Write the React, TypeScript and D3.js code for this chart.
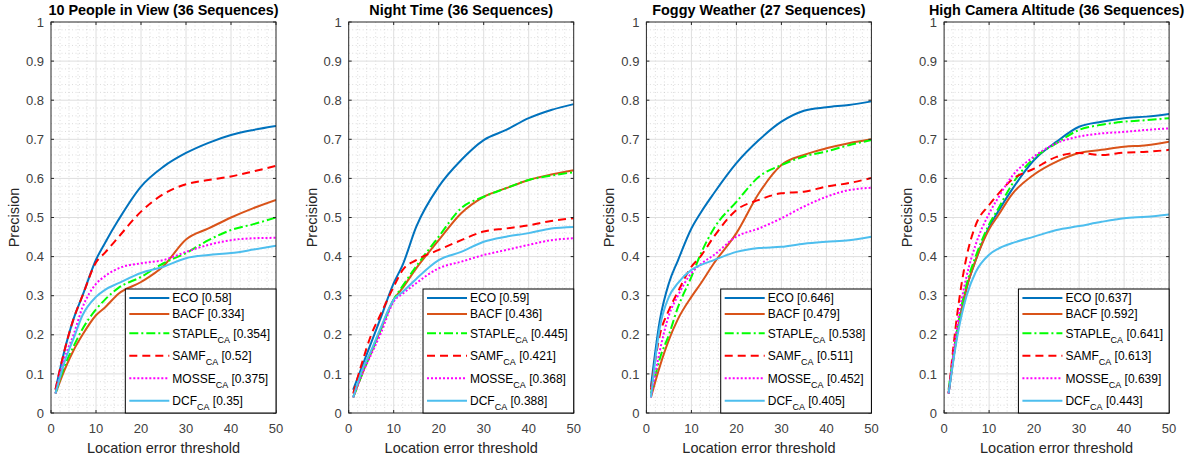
import React, { useEffect, useRef } from 'react';
import * as d3 from 'd3';

const thresholds = [1, 3, 5, 7, 10, 12, 15, 20, 25, 30, 35, 40, 45, 50];

const trackerNames = ['ECO', 'BACF', 'STAPLE', 'SAMF', 'MOSSE', 'DCF'];
const trackerSubs = ['', '', 'CA', 'CA', 'CA', 'CA'];

const titles = [
  '10 People in View (36 Sequences)',
  'Night Time (36 Sequences)',
  'Foggy Weather (27 Sequences)',
  'High Camera Altitude (36 Sequences)',
];

// rows follow trackerNames order
const peopleInView = [
  [0.06, 0.16, 0.24, 0.3, 0.392, 0.435, 0.494, 0.579, 0.63, 0.665, 0.691, 0.711, 0.724, 0.734],
  [0.05, 0.11, 0.16, 0.2, 0.25, 0.27, 0.305, 0.335, 0.376, 0.444, 0.472, 0.5, 0.524, 0.545],
  [0.05, 0.12, 0.17, 0.215, 0.265, 0.29, 0.32, 0.348, 0.383, 0.409, 0.442, 0.468, 0.483, 0.5],
  [0.06, 0.16, 0.24, 0.3, 0.385, 0.41, 0.45, 0.515, 0.56, 0.585, 0.596, 0.605, 0.618, 0.632],
  [0.05, 0.14, 0.2, 0.27, 0.33, 0.35, 0.37, 0.383, 0.391, 0.412, 0.43, 0.442, 0.447, 0.448],
  [0.05, 0.13, 0.19, 0.25, 0.297, 0.315, 0.332, 0.358, 0.374, 0.396, 0.404, 0.409, 0.418, 0.428],
];
const peopleScores = ['0.58', '0.334', '0.354', '0.52', '0.375', '0.35'];

const nightTime = [
  [0.06, 0.12, 0.18, 0.24, 0.332, 0.379, 0.476, 0.579, 0.647, 0.698, 0.724, 0.754, 0.775, 0.79],
  [0.04, 0.1, 0.155, 0.21, 0.29, 0.32, 0.37, 0.442, 0.511, 0.553, 0.575, 0.596, 0.61, 0.621],
  [0.04, 0.1, 0.155, 0.21, 0.29, 0.325, 0.375, 0.451, 0.524, 0.553, 0.575, 0.596, 0.607, 0.616],
  [0.05, 0.13, 0.2, 0.25, 0.323, 0.366, 0.391, 0.417, 0.442, 0.464, 0.472, 0.48, 0.491, 0.498],
  [0.04, 0.1, 0.15, 0.2, 0.285, 0.305, 0.332, 0.37, 0.387, 0.404, 0.417, 0.43, 0.442, 0.447],
  [0.04, 0.11, 0.16, 0.215, 0.29, 0.31, 0.343, 0.391, 0.412, 0.438, 0.451, 0.46, 0.472, 0.476],
];
const nightScores = ['0.59', '0.436', '0.445', '0.421', '0.368', '0.388'];

const foggyWeather = [
  [0.067, 0.238, 0.332, 0.39, 0.472, 0.511, 0.562, 0.639, 0.698, 0.745, 0.773, 0.782, 0.788, 0.797],
  [0.04, 0.12, 0.187, 0.24, 0.297, 0.33, 0.383, 0.46, 0.562, 0.634, 0.66, 0.677, 0.69, 0.7],
  [0.05, 0.14, 0.2, 0.27, 0.348, 0.405, 0.472, 0.54, 0.604, 0.634, 0.656, 0.669, 0.685, 0.698],
  [0.06, 0.2, 0.263, 0.31, 0.374, 0.4, 0.451, 0.519, 0.545, 0.562, 0.566, 0.579, 0.588, 0.601],
  [0.04, 0.16, 0.25, 0.3, 0.358, 0.38, 0.404, 0.451, 0.472, 0.498, 0.528, 0.553, 0.57, 0.576],
  [0.04, 0.22, 0.297, 0.332, 0.366, 0.378, 0.391, 0.412, 0.422, 0.425, 0.433, 0.438, 0.442, 0.451],
];
const foggyScores = ['0.646', '0.479', '0.538', '0.511', '0.452', '0.405'];

const highAltitude = [
  [0.05, 0.21, 0.32, 0.39, 0.476, 0.515, 0.57, 0.647, 0.694, 0.732, 0.745, 0.754, 0.758, 0.765],
  [0.05, 0.21, 0.32, 0.39, 0.47, 0.505, 0.558, 0.61, 0.643, 0.665, 0.673, 0.681, 0.685, 0.694],
  [0.06, 0.22, 0.33, 0.4, 0.482, 0.522, 0.583, 0.652, 0.69, 0.724, 0.737, 0.745, 0.749, 0.754],
  [0.05, 0.26, 0.4, 0.48, 0.532, 0.56, 0.596, 0.625, 0.655, 0.665, 0.66, 0.666, 0.668, 0.673],
  [0.05, 0.23, 0.35, 0.43, 0.51, 0.55, 0.604, 0.656, 0.69, 0.707, 0.715, 0.719, 0.724, 0.728],
  [0.05, 0.2, 0.3, 0.36, 0.405, 0.42, 0.434, 0.451, 0.468, 0.478, 0.489, 0.498, 0.502, 0.508],
];
const highScores = ['0.637', '0.592', '0.641', '0.613', '0.639', '0.443'];

const xTicks = [0, 10, 20, 30, 40, 50];
const yTicks = [0, 0.1, 0.2, 0.3, 0.4, 0.5, 0.6, 0.7, 0.8, 0.9, 1];

const colors = ['#0072BD', '#D95319', '#00FF00', '#FF0000', '#FF00FF', '#4DBEEE'];
const dashes = [null, null, '9,3,2,3', '8,5', '2,2', null];

const panels = [
  { title: titles[0], values: peopleInView, scores: peopleScores },
  { title: titles[1], values: nightTime, scores: nightScores },
  { title: titles[2], values: foggyWeather, scores: foggyScores },
  { title: titles[3], values: highAltitude, scores: highScores },
];

const FONT = '"Liberation Sans", Arial, Helvetica, sans-serif';

const App = () => {
  const ref = useRef(null);

  useEffect(() => {
    const svg = d3.select(ref.current);
    svg.selectAll('*').remove();

    const top = 22;
    const bottom = 413;
    const plotW = 225;

    panels.forEach((panel, i) => {
      const left = 51 + i * 297.7;
      const right = left + plotW;
      const x = d3.scaleLinear().domain([0, 50]).range([left, right]);
      const y = d3.scaleLinear().domain([0, 1]).range([bottom, top]);
      const g = svg.append('g');

      g.append('rect')
        .attr('x', left).attr('y', top)
        .attr('width', plotW).attr('height', bottom - top)
        .attr('fill', '#fff');

      // minor grid
      const xMinor = d3.range(2, 50, 2).filter(v => v % 10 !== 0);
      const yMinor = d3.range(1, 50).map(v => v * 0.02).filter((v, k) => (k + 1) % 5 !== 0);
      g.append('g').selectAll('line').data(xMinor).enter().append('line')
        .attr('x1', d => x(d)).attr('x2', d => x(d))
        .attr('y1', top).attr('y2', bottom)
        .attr('stroke', '#c4c4c4').attr('stroke-width', 0.6)
        .attr('stroke-dasharray', '1,2.5');
      g.append('g').selectAll('line').data(yMinor).enter().append('line')
        .attr('x1', left).attr('x2', right)
        .attr('y1', d => y(d)).attr('y2', d => y(d))
        .attr('stroke', '#c4c4c4').attr('stroke-width', 0.6)
        .attr('stroke-dasharray', '1,2.5');

      // major grid
      g.append('g').selectAll('line').data(xTicks.slice(1, -1)).enter().append('line')
        .attr('x1', d => x(d)).attr('x2', d => x(d))
        .attr('y1', top).attr('y2', bottom)
        .attr('stroke', '#dedede').attr('stroke-width', 1);
      g.append('g').selectAll('line').data(yTicks.slice(1, -1)).enter().append('line')
        .attr('x1', left).attr('x2', right)
        .attr('y1', d => y(d)).attr('y2', d => y(d))
        .attr('stroke', '#dedede').attr('stroke-width', 1);

      // curves
      const clipId = `clip${i}`;
      g.append('clipPath').attr('id', clipId)
        .append('rect')
        .attr('x', left).attr('y', top)
        .attr('width', plotW).attr('height', bottom - top);

      const line = d3.line()
        .x((d, k) => x(thresholds[k]))
        .y(d => y(d))
        .curve(d3.curveMonotoneX);

      const curves = g.append('g').attr('clip-path', `url(#${clipId})`);
      panel.values.forEach((vals, k) => {
        curves.append('path')
          .attr('d', line(vals))
          .attr('fill', 'none')
          .attr('stroke', colors[k])
          .attr('stroke-width', 2)
          .attr('stroke-dasharray', dashes[k]);
      });

      // box and ticks
      g.append('rect')
        .attr('x', left).attr('y', top)
        .attr('width', plotW).attr('height', bottom - top)
        .attr('fill', 'none')
        .attr('stroke', '#262626').attr('stroke-width', 1);

      const tickLen = 3;
      xTicks.forEach(t => {
        g.append('line').attr('x1', x(t)).attr('x2', x(t))
          .attr('y1', bottom).attr('y2', bottom - tickLen).attr('stroke', '#262626');
        g.append('line').attr('x1', x(t)).attr('x2', x(t))
          .attr('y1', top).attr('y2', top + tickLen).attr('stroke', '#262626');
      });
      yTicks.forEach(t => {
        g.append('line').attr('x1', left).attr('x2', left + tickLen)
          .attr('y1', y(t)).attr('y2', y(t)).attr('stroke', '#262626');
        g.append('line').attr('x1', right).attr('x2', right - tickLen)
          .attr('y1', y(t)).attr('y2', y(t)).attr('stroke', '#262626');
      });

      // tick labels
      g.append('g').selectAll('text').data(xTicks).enter().append('text')
        .attr('x', d => x(d)).attr('y', bottom + 20)
        .attr('text-anchor', 'middle')
        .attr('font-family', FONT).attr('font-size', 13)
        .attr('fill', '#404040')
        .text(d => d);
      g.append('g').selectAll('text').data(yTicks).enter().append('text')
        .attr('x', left - 7).attr('y', d => y(d) + 4.6)
        .attr('text-anchor', 'end')
        .attr('font-family', FONT).attr('font-size', 13)
        .attr('fill', '#404040')
        .text(d => d3.format('~g')(d));

      // axis labels and title
      g.append('text')
        .attr('x', (left + right) / 2).attr('y', 453)
        .attr('text-anchor', 'middle')
        .attr('font-family', FONT).attr('font-size', 14.5)
        .attr('fill', '#262626')
        .text('Location error threshold');
      g.append('text')
        .attr('transform', `translate(${left - 32},${(top + bottom) / 2}) rotate(-90)`)
        .attr('text-anchor', 'middle')
        .attr('font-family', FONT).attr('font-size', 14.5)
        .attr('fill', '#262626')
        .text('Precision');
      g.append('text')
        .attr('x', (left + right) / 2).attr('y', 14.5)
        .attr('text-anchor', 'middle')
        .attr('font-family', FONT).attr('font-size', 14.4)
        .attr('font-weight', 'bold')
        .attr('fill', '#000')
        .text(panel.title);

      // legend, anchored to the south-east corner
      const legend = g.append('g');
      const box = legend.append('rect')
        .attr('fill', '#fff').attr('stroke', '#000').attr('stroke-width', 1);
      let cy = 1;
      let maxW = 0;
      trackerNames.forEach((name, k) => {
        const h = trackerSubs[k] ? 22.5 : 16;
        const mid = cy + h / 2;
        legend.append('line')
          .attr('x1', 4).attr('x2', 44)
          .attr('y1', mid).attr('y2', mid)
          .attr('stroke', colors[k]).attr('stroke-width', 2)
          .attr('stroke-dasharray', dashes[k]);
        const txt = legend.append('text')
          .attr('x', 47).attr('y', mid + 4.3)
          .attr('font-family', FONT).attr('font-size', 12)
          .attr('fill', '#000');
        txt.append('tspan').text(name);
        if (trackerSubs[k]) {
          txt.append('tspan').attr('dy', 5).attr('font-size', 9).text(trackerSubs[k]);
          txt.append('tspan').attr('dy', -5).text(` [${panel.scores[k]}]`);
        } else {
          txt.append('tspan').text(` [${panel.scores[k]}]`);
        }
        maxW = Math.max(maxW, txt.node().getComputedTextLength());
        cy += h;
      });
      const boxW = 47 + maxW + 6;
      const boxH = cy + 1;
      box.attr('x', 0).attr('y', 0).attr('width', boxW).attr('height', boxH);
      legend.attr('transform', `translate(${right - boxW},${bottom - boxH})`);
    });
  }, []);

  return (
    <svg
      ref={ref}
      width={1194}
      height={461}
      style={{ position: 'absolute', left: 0, top: 0, background: '#fff' }}
    />
  );
};

export default App;
